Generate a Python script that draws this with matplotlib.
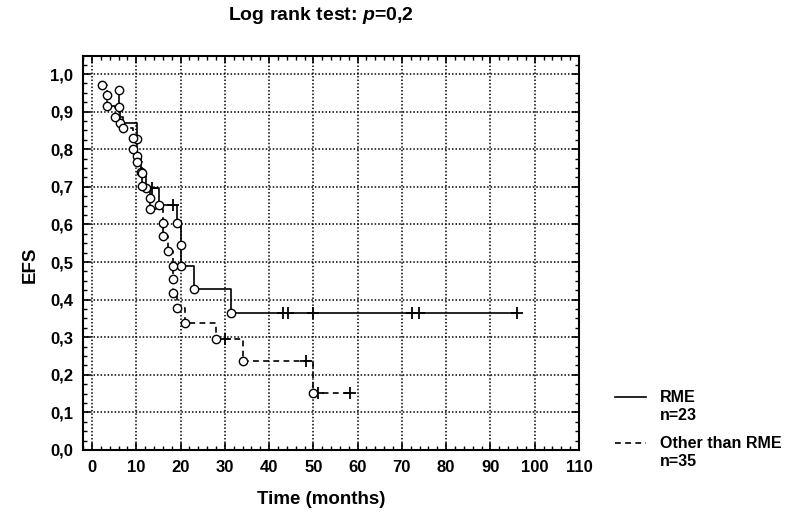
import matplotlib
matplotlib.use('Agg')
import matplotlib.pyplot as plt
from matplotlib.ticker import MultipleLocator, FuncFormatter
from matplotlib.lines import Line2D

# ---- data ----
# RME group (solid line): event times / survival, censored times / survival
rme_event_t = [6.1, 6.1, 6.3, 10.1, 10.1, 11.1, 12.3, 15.1, 19.3, 20.2, 20.2, 23.1, 31.3]
rme_event_s = [0.957, 0.913, 0.870, 0.826, 0.783, 0.739, 0.696, 0.652, 0.603, 0.545, 0.489, 0.427, 0.365]
rme_cens_t = [13.5, 18.2, 43.2, 44.3, 50.0, 72.3, 73.9, 96.0]
rme_cens_s = [0.696, 0.652, 0.365, 0.365, 0.365, 0.365, 0.365, 0.365]

# Other than RME group (dashed line)
oth_event_t = [2.2, 3.3, 3.3, 5.2, 7.1, 9.3, 9.3, 10.1, 11.2, 11.2, 13.2, 13.2, 16.1, 16.1,
               17.1, 18.2, 18.2, 18.2, 19.3, 21.0, 28.1, 34.0, 50.0]
oth_event_s = [0.971, 0.943, 0.914, 0.886, 0.857, 0.829, 0.800, 0.767, 0.736, 0.702, 0.669,
               0.640, 0.603, 0.569, 0.529, 0.489, 0.454, 0.417, 0.379, 0.337, 0.295, 0.237, 0.152]
oth_cens_t = [30.0, 48.3, 51.0, 58.2]
oth_cens_s = [0.295, 0.237, 0.152, 0.152]

x_ticks = [0, 10, 20, 30, 40, 50, 60, 70, 80, 90, 100, 110]
y_ticks = [0.0, 0.1, 0.2, 0.3, 0.4, 0.5, 0.6, 0.7, 0.8, 0.9, 1.0]

title_text = "Log rank test: $\\mathit{p}$=0,2"
x_label = "Time (months)"
y_label = "EFS"
legend_names = ["RME", "Other than RME"]
legend_n = ["n=23", "n=35"]

# ---- style ----
FONT = ['Liberation Sans', 'DejaVu Sans']
plt.rcParams['font.family'] = FONT
plt.rcParams['font.weight'] = 'bold'
plt.rcParams['mathtext.fontset'] = 'custom'
plt.rcParams['mathtext.it'] = 'Liberation Sans:italic:bold'
plt.rcParams['mathtext.rm'] = 'Liberation Sans:bold'

W, H = 790, 513
fig = plt.figure(figsize=(W / 100, H / 100), dpi=100)
ax = fig.add_axes([82.7 / W, 1 - 450 / H, (579 - 82.7) / W, (450 - 56) / H])

DASH = (0, (3.5, 2.6))


def step_path(et, es, ct, cs):
    pts = [(t, s) for t, s in zip(et, es)] + [(t, s) for t, s in zip(ct, cs)]
    pts.sort(key=lambda p: (p[0], -p[1]))
    return [p[0] for p in pts], [p[1] for p in pts]


for et, es, ct, cs, ls in [(rme_event_t, rme_event_s, rme_cens_t, rme_cens_s, '-'),
                           (oth_event_t, oth_event_s, oth_cens_t, oth_cens_s, DASH)]:
    xs, ys = step_path(et, es, ct, cs)
    ax.step(xs, ys, where='post', color='black', lw=1.2, linestyle=ls, zorder=3)
    ax.plot(ct, cs, linestyle='none', marker='+', ms=8, mew=1.3, color='black', zorder=4)
    ax.plot(et, es, linestyle='none', marker='o', ms=6, mew=1.0, mfc='white',
            mec='black', zorder=5)

ax.set_xlim(-2.1, 110)
ax.set_ylim(0, 1.048)
ax.set_xticks(x_ticks)
ax.set_yticks(y_ticks)
ax.xaxis.set_minor_locator(MultipleLocator(2))
ax.yaxis.set_minor_locator(MultipleLocator(0.025))
ax.yaxis.set_major_formatter(FuncFormatter(lambda v, p: f"{v:.1f}".replace('.', ',')))
ax.tick_params(which='both', direction='in', top=True, right=True, color='black')
ax.tick_params(which='major', length=5, width=1.2, labelsize=12, pad=7)
ax.tick_params(which='minor', length=3, width=1.0)
for lab in ax.get_xticklabels() + ax.get_yticklabels():
    lab.set_fontweight('bold')
for sp in ax.spines.values():
    sp.set_linewidth(1.5)
    sp.set_color('black')
ax.grid(True, which='major', color='black', linestyle=(0, (1, 1.3)), linewidth=1.1)
ax.set_axisbelow(True)

fig.text(321 / W, 1 - 16 / H, title_text, ha='center', va='center', fontsize=14,
         fontweight='bold')
fig.text(321 / W, 1 - 500 / H, x_label, ha='center', va='center', fontsize=13.5,
         fontweight='bold')
fig.text(30 / W, 1 - 265 / H, y_label, ha='center', va='center', rotation=90,
         fontsize=13.5, fontweight='bold')

# legend drawn in figure coordinates
for i, (ls, name, n) in enumerate(zip(['-', DASH], legend_names, legend_n)):
    yline = [397, 443][i]
    fig.add_artist(Line2D([615 / W, 646 / W], [1 - yline / H, 1 - yline / H],
                          color='black', lw=1.2, linestyle=ls))
    fig.text(660 / W, 1 - yline / H, name, ha='left', va='center', fontsize=11.5,
             fontweight='bold')
    fig.text(660 / W, 1 - (yline + 19) / H, n, ha='left', va='center', fontsize=11.5,
             fontweight='bold')

fig.savefig('out.png', dpi=100)
